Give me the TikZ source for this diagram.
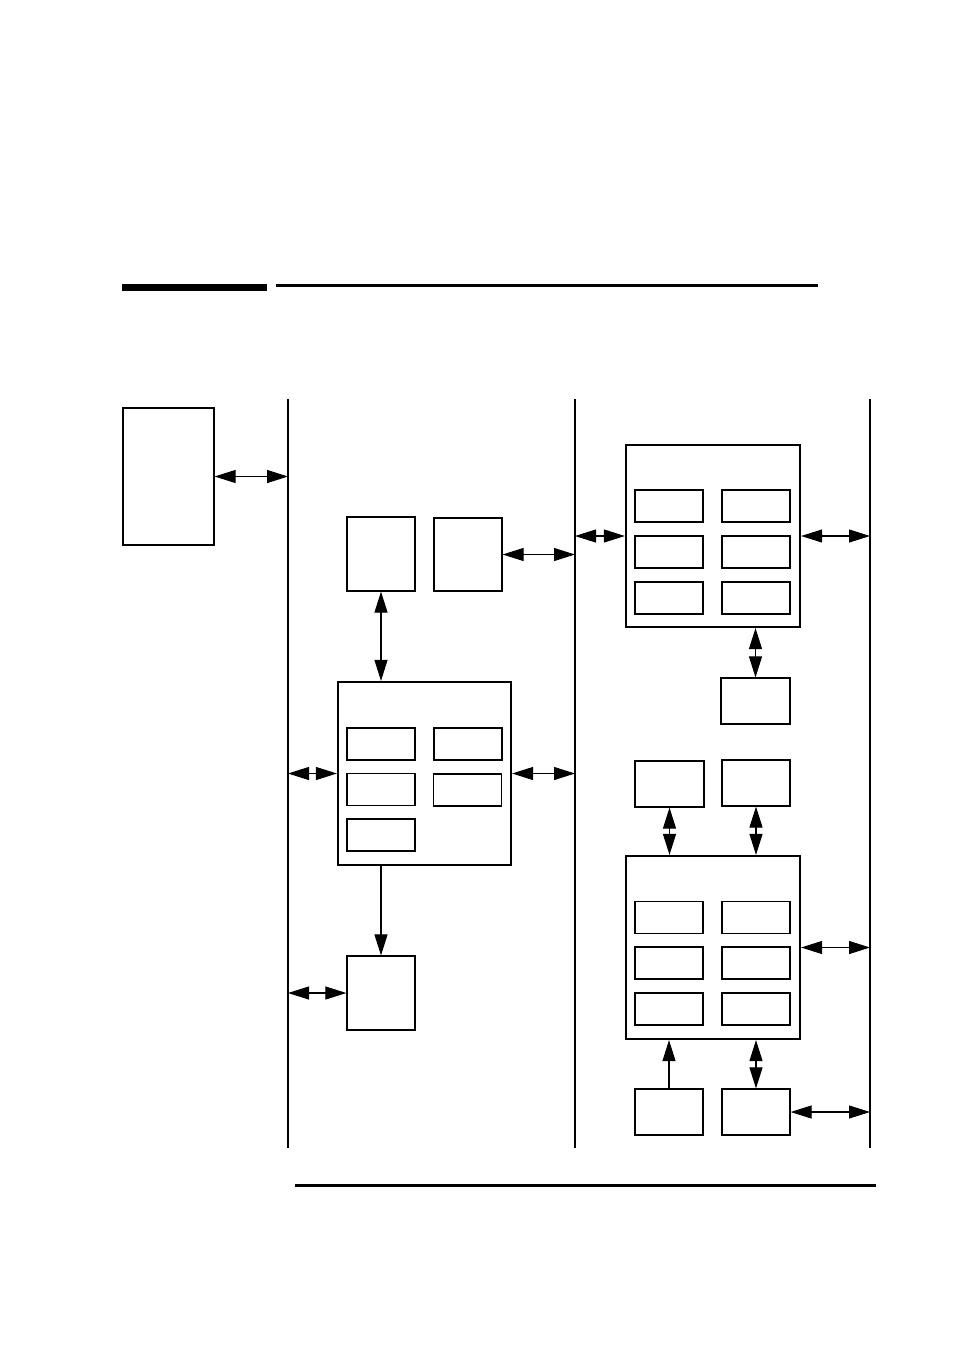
\documentclass[tikz,border=0pt]{standalone}
\usepackage{tikz}
\usetikzlibrary{arrows.meta}
\usetikzlibrary{positioning}
\tikzset{blk/.style = {draw, line width = 1.2pt, rectangle, inner sep = 0}}
\tikzset{card/.style = {draw, line width = 2.2pt, rectangle, inner sep = 0}}
\tikzset{bus/.style = {line width = 1.3pt}}
\tikzset{bi/.style = {line width = 1.1pt, {Triangle[length=21pt, width=13pt]}-{Triangle[length=21pt, width=13pt]}}}
\tikzset{uni/.style = {line width = 1.1pt, -{Triangle[length=21pt, width=13pt]}}}

\begin{document}
\begin{tikzpicture}[x=1pt, y=-1pt]
      \useasboundingbox (0, 0) rectangle (954, 1350);

      % header and footer rules
      \fill (122, 284) rectangle (267, 291);
      \fill (276, 284) rectangle (818, 286.5);
      \fill (295, 1184) rectangle (876, 1186.5);

      % bus lines
      \coordinate (busat) at (288, 399);  \coordinate (busab) at (288, 1148);
      \coordinate (busbt) at (575, 399);  \coordinate (busbb) at (575, 1148);
      \coordinate (busct) at (870, 399);  \coordinate (buscb) at (870, 1148);
      \draw [bus] (busat) -- (busab);
      \draw [bus] (busbt) -- (busbb);
      \draw [bus] (busct) -- (buscb);

      % left column
      \node [blk, minimum width = 91, minimum height = 137] (host) at (168.5, 476.5) {};
      \draw [bi] (host.east) -- (host.east -| busat);

      % middle column
      \node [blk, minimum width = 68, minimum height = 74] (cfg) at (381, 554) {};
      \node [blk, minimum width = 68, minimum height = 73] (mem) at (468, 554.5) {};
      \node [card, minimum width = 173, minimum height = 183] (ctl) at (424.5, 773.5) {};
      \foreach \x/\y/\n in {381/744/1, 468/744/2, 381/789.5/3, 467.5/790/4, 381/835/5}
        \node [blk, minimum width = 68, minimum height = 32] (ctl-\n) at (\x, \y) {};
      \node [blk, minimum width = 68, minimum height = 74] (out) at (381, 993) {};

      \draw [bi] (mem.east) -- (mem.east -| busbt);
      \draw [bi] (cfg.south) -- (cfg.south |- ctl.north);
      \draw [bi] (ctl.west -| busat) -- (ctl.west);
      \draw [bi] (ctl.east) -- (ctl.east -| busbt);
      \draw [uni] (out.north |- ctl.south) -- (out.north);
      \draw [bi] (out.west -| busat) -- (out.west);

      % right column
      \node [card, minimum width = 174, minimum height = 182] (proca) at (713, 536) {};
      \node [card, minimum width = 174, minimum height = 183] (procb) at (713, 947.5) {};
      \foreach \r/\ya/\yb in {1/506/917.5, 2/552/963, 3/598/1009}
        \foreach \c/\x in {1/669, 2/756} {
          \node [blk, minimum width = 68, minimum height = 32] (proca-\r-\c) at (\x, \ya) {};
          \node [blk, minimum width = 68, minimum height = 32] (procb-\r-\c) at (\x, \yb) {};
        }
      \node [blk, minimum width = 69, minimum height = 46] (ioa) at (755.5, 701) {};
      \node [blk, minimum width = 69, minimum height = 46] (iob) at (669.5, 784) {};
      \node [blk, minimum width = 68, minimum height = 46] (ioc) at (756, 783) {};
      \node [blk, minimum width = 68, minimum height = 46] (iod) at (669, 1112) {};
      \node [blk, minimum width = 68, minimum height = 46] (ioe) at (756, 1112) {};

      \draw [bi] (proca.west -| busbt) -- (proca.west);
      \draw [bi] (proca.east) -- (proca.east -| busct);
      \draw [bi] (ioa.north |- proca.south) -- (ioa.north);
      \draw [bi] (iob.south) -- (iob.south |- procb.north);
      \draw [bi] (ioc.south) -- (ioc.south |- procb.north);
      \draw [bi] (procb.east) -- (procb.east -| busct);
      \draw [uni] (iod.north) -- (iod.north |- procb.south);
      \draw [bi] (ioe.north) -- (ioe.north |- procb.south);
      \draw [bi] (ioe.east) -- (ioe.east -| busct);
    \end{tikzpicture}
\end{document}
